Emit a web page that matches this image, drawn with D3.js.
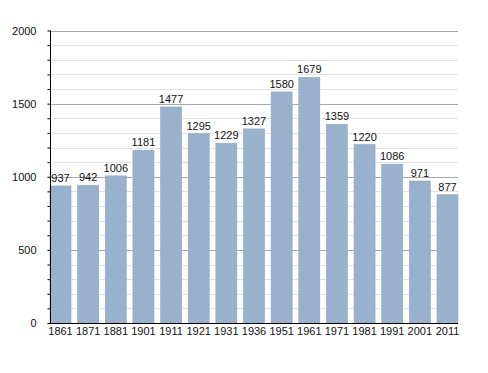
<!DOCTYPE html>
<html>
<head>
<meta charset="utf-8">
<script src="https://cdn.jsdelivr.net/npm/d3@7"></script>
<style>
  body { margin: 0; background: #fff; }
  text { font-family: "Liberation Sans", Arial, sans-serif; }
</style>
</head>
<body>
<div id="chart"></div>
<script>
// Data
var years = ["1861", "1871", "1881", "1901", "1911", "1921", "1931", "1936", "1951", "1961", "1971", "1981", "1991", "2001", "2011"];
var population = [937, 942, 1006, 1181, 1477, 1295, 1229, 1327, 1580, 1679, 1359, 1220, 1086, 971, 877];
var yTicks = [0, 500, 1000, 1500, 2000];

var width = 488, height = 373;
var margin = { top: 30.5, right: 30, bottom: 50, left: 50 };

var svg = d3.select("#chart")
    .append("svg")
    .attr("width", width)
    .attr("height", height);

var x = d3.scaleBand()
    .domain(years)
    .range([margin.left, width - margin.right])
    .paddingInner(0.24)
    .paddingOuter(0);

var y = d3.scaleLinear()
    .domain([0, 2000])
    .range([height - margin.bottom, margin.top]);

// Minor gridlines every 100
svg.append("g")
    .selectAll("line")
    .data(d3.range(100, 2000, 100).filter(d => d % 500 !== 0))
    .enter()
    .append("line")
    .attr("x1", margin.left)
    .attr("x2", width - margin.right)
    .attr("y1", d => Math.round(y(d)) + 0.5)
    .attr("y2", d => Math.round(y(d)) + 0.5)
    .style("stroke", "#e2e2e2")
    .style("stroke-width", 1);

// Major gridlines
svg.append("g")
    .selectAll("line")
    .data(yTicks.slice(1))
    .enter()
    .append("line")
    .attr("x1", margin.left)
    .attr("x2", width - margin.right)
    .attr("y1", d => Math.round(y(d)) + 0.5)
    .attr("y2", d => Math.round(y(d)) + 0.5)
    .style("stroke", "#a8a8a8")
    .style("stroke-width", 1);

// Bars
svg.append("g")
    .selectAll("rect")
    .data(population)
    .enter()
    .append("rect")
    .attr("x", (d, i) => x(years[i]))
    .attr("y", d => y(d))
    .attr("width", x.bandwidth())
    .attr("height", d => y(0) - y(d))
    .style("fill", "#99b1cc")
    .style("stroke", "#8ea6c2")
    .style("stroke-width", 0.6);

// Value labels
svg.append("g")
    .selectAll("text")
    .data(population)
    .enter()
    .append("text")
    .attr("x", (d, i) => x(years[i]) + x.bandwidth() / 2)
    .attr("y", d => y(d) - 4)
    .attr("text-anchor", "middle")
    .style("font-size", "11px")
    .style("fill", "#111")
    .text(d => d);

// Y axis
var yAxis = svg.append("g")
    .attr("transform", "translate(" + (margin.left + 0.5) + ",0)")
    .call(d3.axisLeft(y).tickValues(d3.range(0, 2001, 100)).tickSize(3)
        .tickFormat(d => yTicks.indexOf(d) >= 0 ? d : ""));
yAxis.select(".domain").attr("d", "M0," + margin.top + "V" + (height - margin.bottom)).style("stroke", "#000");
yAxis.selectAll(".tick line").style("stroke", "#000");
yAxis.selectAll("text")
    .attr("x", -14)
    .style("font-size", "11px")
    .style("fill", "#111")
    .style("font-family", "'Liberation Sans', Arial, sans-serif");

// X axis
var xAxis = svg.append("g")
    .attr("transform", "translate(0," + (Math.round(y(0)) + 0.5) + ")")
    .call(d3.axisBottom(x).tickSize(0).tickPadding(4));
xAxis.select(".domain").attr("d", "M" + margin.left + ",0H" + (width - margin.right)).style("stroke", "#000");
xAxis.selectAll("text")
    .style("font-size", "11px")
    .style("fill", "#111")
    .style("font-family", "'Liberation Sans', Arial, sans-serif");
</script>
</body>
</html>
